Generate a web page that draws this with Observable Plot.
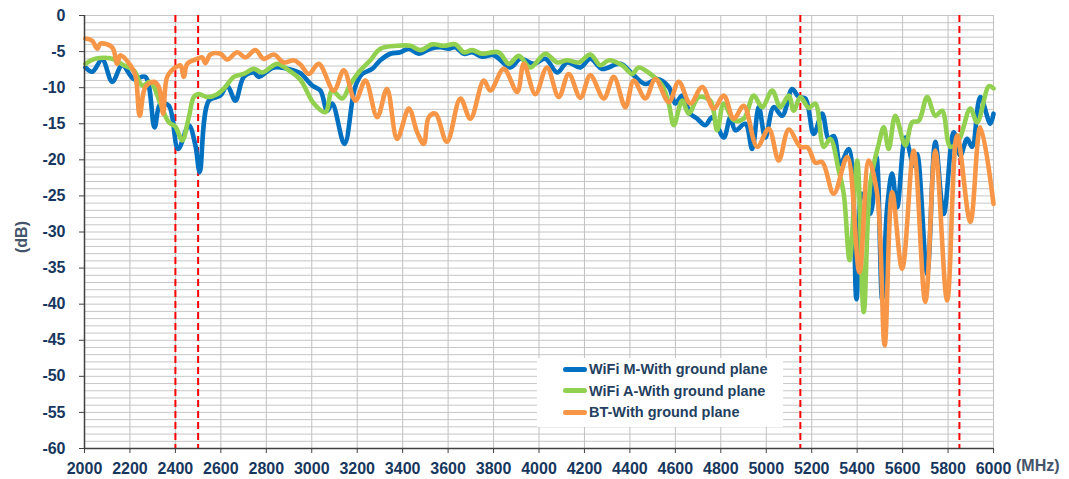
<!DOCTYPE html>
<html>
<head>
<meta charset="utf-8">
<script src="https://cdn.jsdelivr.net/npm/d3@7"></script>
<script src="https://cdn.jsdelivr.net/npm/@observablehq/plot@0.6"></script>
<style>
  body { margin: 0; background: #fff; }
  #wrap { position: relative; width: 1069px; height: 479px; font-family: "Liberation Sans", Arial, sans-serif; }
  .lbl { position: absolute; font-weight: bold; font-size: 16px; color: #44546A; white-space: nowrap; }
  #legend { position: absolute; left: 537px; top: 358px; width: 246px; height: 69px; background: #fff; }
  .row { position: absolute; left: 26px; height: 20px; display: flex; align-items: center; font-weight: bold; font-size: 14.5px; color: #243F60; white-space: nowrap; }
  .sw { display: inline-block; width: 24px; height: 5px; border-radius: 2.5px; margin-right: 2px; }
</style>
</head>
<body>
<div id="wrap"></div>
<script>
// ---- data ----
const seriesNames = ["WiFi M-With ground plane", "WiFi A-With ground plane", "BT-With ground plane"];
const seriesColors = ["#0070C0", "#92D050", "#F79646"];
const freqTicks = [2000,2200,2400,2600,2800,3000,3200,3400,3600,3800,4000,4200,4400,4600,4800,5000,5200,5400,5600,5800,6000];
const dbTicks = [0,-5,-10,-15,-20,-25,-30,-35,-40,-45,-50,-55,-60];
const bandEdges = [2400, 2500, 5150, 5850];

const wifiM_f = [2004,2034,2078,2122,2166,2217,2268,2308,2334,2371,2412,2459,2488,2507,2547,2598,2628,2664,2701,2745,2767,2833,2921,2950,3002,3038,3068,3090,3144,3190,3222,3266,3302,3346,3390,3427,3471,3522,3566,3603,3632,3669,3706,3750,3801,3874,3918,3977,4028,4080,4124,4182,4226,4278,4358,4417,4468,4520,4571,4600,4630,4666,4696,4732,4762,4813,4842,4864,4908,4938,4967,4996,5033,5070,5114,5143,5172,5209,5246,5275,5297,5326,5363,5397,5422,5458,5485,5510,5532,5554,5576,5612,5649,5664,5708,5744,5781,5825,5854,5884,5906,5942,5986,6000];
const wifiM_db = [-7.2,-7.8,-6.1,-9.2,-6.9,-8.8,-8.5,-15.5,-12.2,-12.5,-18.5,-15.2,-18.0,-21.7,-11.8,-11.1,-9.7,-11.8,-8.5,-7.9,-8.5,-7.2,-7.6,-8.0,-9.7,-10.4,-13.2,-12.2,-17.8,-10.0,-8.1,-7.4,-6.2,-5.3,-5.1,-4.6,-5.3,-4.6,-4.4,-4.6,-4.4,-5.3,-5.1,-5.7,-5.5,-7.2,-6.0,-6.7,-6.0,-7.9,-6.5,-7.2,-6.0,-7.4,-6.7,-8.3,-9.5,-8.8,-9.9,-12.2,-11.1,-13.6,-14.3,-15.2,-14.1,-16.9,-14.1,-15.9,-15.0,-18.5,-12.7,-16.9,-12.7,-13.9,-10.2,-11.3,-11.5,-16.4,-13.6,-17.1,-16.7,-20.6,-18.5,-39.3,-24.7,-27.5,-19.6,-39.3,-26.6,-21.9,-26.6,-16.9,-20.8,-19.2,-35.8,-17.5,-27.5,-16.2,-19.4,-17.1,-18.2,-11.3,-15.0,-13.6];

const wifiA_f = [2004,2048,2122,2173,2217,2254,2290,2334,2371,2400,2430,2459,2481,2503,2540,2584,2620,2657,2701,2745,2782,2848,2899,2950,3009,3060,3090,3134,3170,3214,3258,3302,3376,3434,3478,3530,3581,3632,3669,3706,3750,3823,3867,3911,3962,4028,4080,4124,4175,4226,4270,4307,4366,4410,4439,4490,4542,4571,4593,4630,4659,4703,4754,4784,4813,4857,4901,4945,4982,5026,5062,5099,5121,5150,5187,5216,5253,5282,5319,5341,5367,5400,5429,5458,5495,5517,5539,5568,5612,5642,5671,5708,5744,5774,5810,5847,5898,5928,5980,6000];
const wifiA_db = [-6.7,-6.0,-6.0,-6.9,-7.6,-9.7,-9.2,-12.2,-14.8,-15.4,-17.3,-14.1,-11.3,-10.9,-11.3,-10.9,-9.9,-8.5,-8.1,-7.4,-7.9,-6.7,-7.6,-8.9,-12.2,-13.4,-10.4,-11.5,-9.5,-7.6,-6.2,-4.6,-4.2,-4.2,-4.8,-4.0,-4.2,-4.0,-5.1,-4.8,-5.3,-5.1,-6.7,-5.6,-7.2,-5.3,-6.5,-6.2,-6.5,-5.4,-6.9,-6.2,-6.9,-8.1,-7.2,-8.1,-9.7,-12.2,-15.2,-11.8,-13.6,-11.3,-11.8,-15.9,-12.2,-14.5,-14.3,-11.1,-12.7,-10.4,-12.7,-11.1,-13.2,-11.3,-12.8,-12.2,-18.2,-17.1,-21.5,-24.7,-33.9,-20.1,-41.1,-23.3,-17.8,-15.5,-18.5,-13.9,-18.0,-14.8,-14.6,-11.3,-13.9,-13.2,-18.2,-17.3,-12.9,-14.8,-9.8,-10.1];

const bt_f = [2004,2034,2056,2070,2122,2144,2158,2202,2224,2243,2268,2305,2327,2346,2364,2400,2422,2437,2452,2496,2518,2532,2554,2598,2628,2672,2708,2752,2789,2833,2877,2921,2950,2987,3031,3097,3141,3192,3236,3288,3331,3376,3427,3464,3493,3515,3544,3595,3654,3698,3757,3786,3845,3904,3933,3984,4035,4087,4131,4182,4226,4285,4329,4380,4417,4468,4512,4571,4615,4666,4718,4769,4813,4857,4901,4960,5011,5055,5099,5150,5183,5216,5246,5297,5356,5410,5451,5488,5521,5554,5598,5649,5700,5744,5796,5840,5898,5942,6000];
const bt_db = [-3.2,-3.5,-4.6,-3.9,-4.4,-6.7,-5.5,-6.9,-8.3,-13.9,-9.9,-9.2,-9.9,-13.6,-8.5,-7.2,-6.9,-8.5,-6.7,-6.0,-5.8,-6.6,-5.4,-5.3,-6.1,-5.1,-5.8,-4.8,-6.0,-5.4,-6.5,-6.2,-6.8,-8.1,-6.7,-10.4,-7.6,-11.8,-9.0,-14.1,-10.2,-17.1,-12.9,-16.2,-17.8,-14.1,-13.6,-17.5,-11.5,-14.3,-9.0,-10.4,-7.4,-10.6,-6.7,-10.9,-7.2,-11.3,-8.1,-11.4,-8.3,-11.5,-8.5,-12.7,-9.0,-11.5,-8.8,-12.0,-9.2,-12.2,-9.9,-12.9,-11.1,-14.3,-12.5,-18.2,-15.7,-20.1,-15.8,-18.2,-18.3,-20.4,-20.3,-24.7,-19.6,-35.6,-20.1,-24.7,-45.7,-24.5,-35.1,-18.7,-39.7,-18.7,-39.5,-16.6,-28.6,-15.5,-26.1];

// ---- build rows ----
const toRows = (fs, ds, name) => fs.map((f, i) => ({f, db: ds[i], series: name}));
const rowsM = toRows(wifiM_f, wifiM_db, seriesNames[0]);
const rowsA = toRows(wifiA_f, wifiA_db, seriesNames[1]);
const rowsB = toRows(bt_f, bt_db, seriesNames[2]);

const lineOpts = (c) => ({x: "f", y: "db", stroke: c, strokeWidth: 4.6, curve: "catmull-rom", strokeLinejoin: "round", strokeLinecap: "round"});

const chart = Plot.plot({
  width: 1069, height: 479,
  marginLeft: 84, marginRight: 76, marginTop: 15, marginBottom: 31,
  x: {domain: [2000, 6000]},
  y: {domain: [-60, 0]},
  style: {fontFamily: "'Liberation Sans', Arial, sans-serif", fontSize: "16px", fontWeight: "bold", color: "#17375E", background: "#fff", overflow: "visible"},
  marks: [
    Plot.gridY(d3.range(-60, 1, 1), {stroke: "#c6c6c6", strokeOpacity: 1}),
    Plot.gridX(freqTicks, {stroke: "#c0c0c0", strokeOpacity: 1}),
    Plot.ruleX(bandEdges, {stroke: "#ff0000", strokeWidth: 2, strokeDasharray: "7,4"}),
    Plot.line(rowsM, lineOpts(seriesColors[0])),
    Plot.line(rowsA, lineOpts(seriesColors[1])),
    Plot.line(rowsB, lineOpts(seriesColors[2])),
    Plot.ruleX([2000], {stroke: "#404040", strokeWidth: 1.5}),
    Plot.ruleY([-60], {stroke: "#404040", strokeWidth: 1.5}),
    Plot.axisX(freqTicks, {tickSize: 5, tickPadding: 9, tickFormat: d => String(d), label: null, stroke: "#404040"}),
    Plot.axisY(dbTicks, {tickSize: 5, tickPadding: 14, tickFormat: d => String(d), label: null, stroke: "#404040"})
  ]
});

const wrap = document.getElementById("wrap");
wrap.appendChild(chart);

// axis unit labels
const mhz = document.createElement("div");
mhz.className = "lbl"; mhz.textContent = "(MHz)";
mhz.style.left = "1016px"; mhz.style.top = "457px";
wrap.appendChild(mhz);

const db = document.createElement("div");
db.className = "lbl"; db.textContent = "(dB)";
db.style.left = "22px"; db.style.top = "237px";
db.style.transform = "translate(-50%,-50%) rotate(-90deg)";
wrap.appendChild(db);

// legend
const lg = document.createElement("div");
lg.id = "legend";
seriesNames.forEach((n, i) => {
  const r = document.createElement("div");
  r.className = "row";
  r.style.top = (1 + i * 21.5) + "px";
  const s = document.createElement("span");
  s.className = "sw"; s.style.background = seriesColors[i];
  r.appendChild(s);
  r.appendChild(document.createTextNode(n));
  lg.appendChild(r);
});
wrap.appendChild(lg);
</script>
</body>
</html>
